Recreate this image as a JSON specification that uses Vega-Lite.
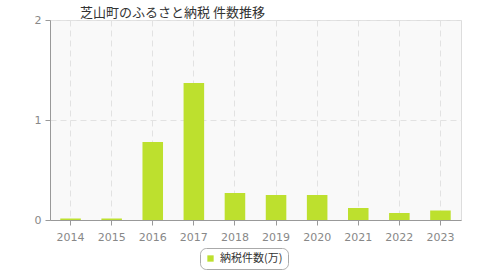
{
  "$schema": "https://vega.github.io/schema/vega-lite/v6.json",
  "width": 411,
  "height": 200,
  "autosize": "none",
  "padding": {"left": 50, "top": 20, "right": 19, "bottom": 60},
  "background": "white",
  "title": {
    "text": "芝山町のふるさと納税  件数推移",
    "anchor": "start",
    "frame": "group",
    "dx": 30,
    "offset": 0,
    "dy": 6,
    "font": "Noto Sans CJK JP",
    "fontSize": 13,
    "fontWeight": "normal",
    "color": "#333333"
  },
  "config": {
    "view": {"fill": "#f9f9f9", "stroke": "#dddddd"},
    "font": "DejaVu Sans"
  },
  "data": {
    "values": [
      {"year": "2014", "value": 0.015},
      {"year": "2015", "value": 0.015},
      {"year": "2016", "value": 0.78},
      {"year": "2017", "value": 1.37},
      {"year": "2018", "value": 0.27},
      {"year": "2019", "value": 0.25},
      {"year": "2020", "value": 0.25},
      {"year": "2021", "value": 0.12},
      {"year": "2022", "value": 0.07},
      {"year": "2023", "value": 0.095}
    ]
  },
  "mark": {"type": "bar"},
  "encoding": {
    "x": {
      "field": "year",
      "type": "ordinal",
      "scale": {"paddingInner": 0.5, "paddingOuter": 0.25},
      "axis": {
        "title": null,
        "labelAngle": 0,
        "labelColor": "#888888",
        "labelFontSize": 11,
        "labelPadding": 6,
        "domainColor": "#999999",
        "tickColor": "#999999",
        "tickSize": 5,
        "grid": true,
        "gridDash": [6, 4],
        "gridColor": "#e2e2e2",
        "bandPosition": 0.5
      }
    },
    "y": {
      "field": "value",
      "type": "quantitative",
      "scale": {"domain": [0, 2], "nice": false},
      "axis": {
        "title": null,
        "tickCount": 2,
        "labelOverlap": false,
        "format": ".0f",
        "labelColor": "#888888",
        "labelFontSize": 11,
        "labelPadding": 4,
        "domain": true,
        "domainColor": "#999999",
        "tickColor": "#999999",
        "tickSize": 5,
        "grid": true,
        "gridDash": [6, 4],
        "gridColor": "#e2e2e2"
      }
    },
    "color": {
      "datum": "納税件数(万)",
      "type": "nominal",
      "scale": {"range": ["#bde02e"]},
      "legend": {
        "title": null,
        "orient": "none",
        "legendX": 150,
        "legendY": 228,
        "symbolType": "square",
        "symbolSize": 40,
        "labelFont": "Noto Sans CJK JP",
        "labelFontSize": 11,
        "labelColor": "#333333",
        "strokeColor": "#aaaaaa",
        "fillColor": "white",
        "cornerRadius": 6,
        "padding": 5
      }
    }
  }
}
